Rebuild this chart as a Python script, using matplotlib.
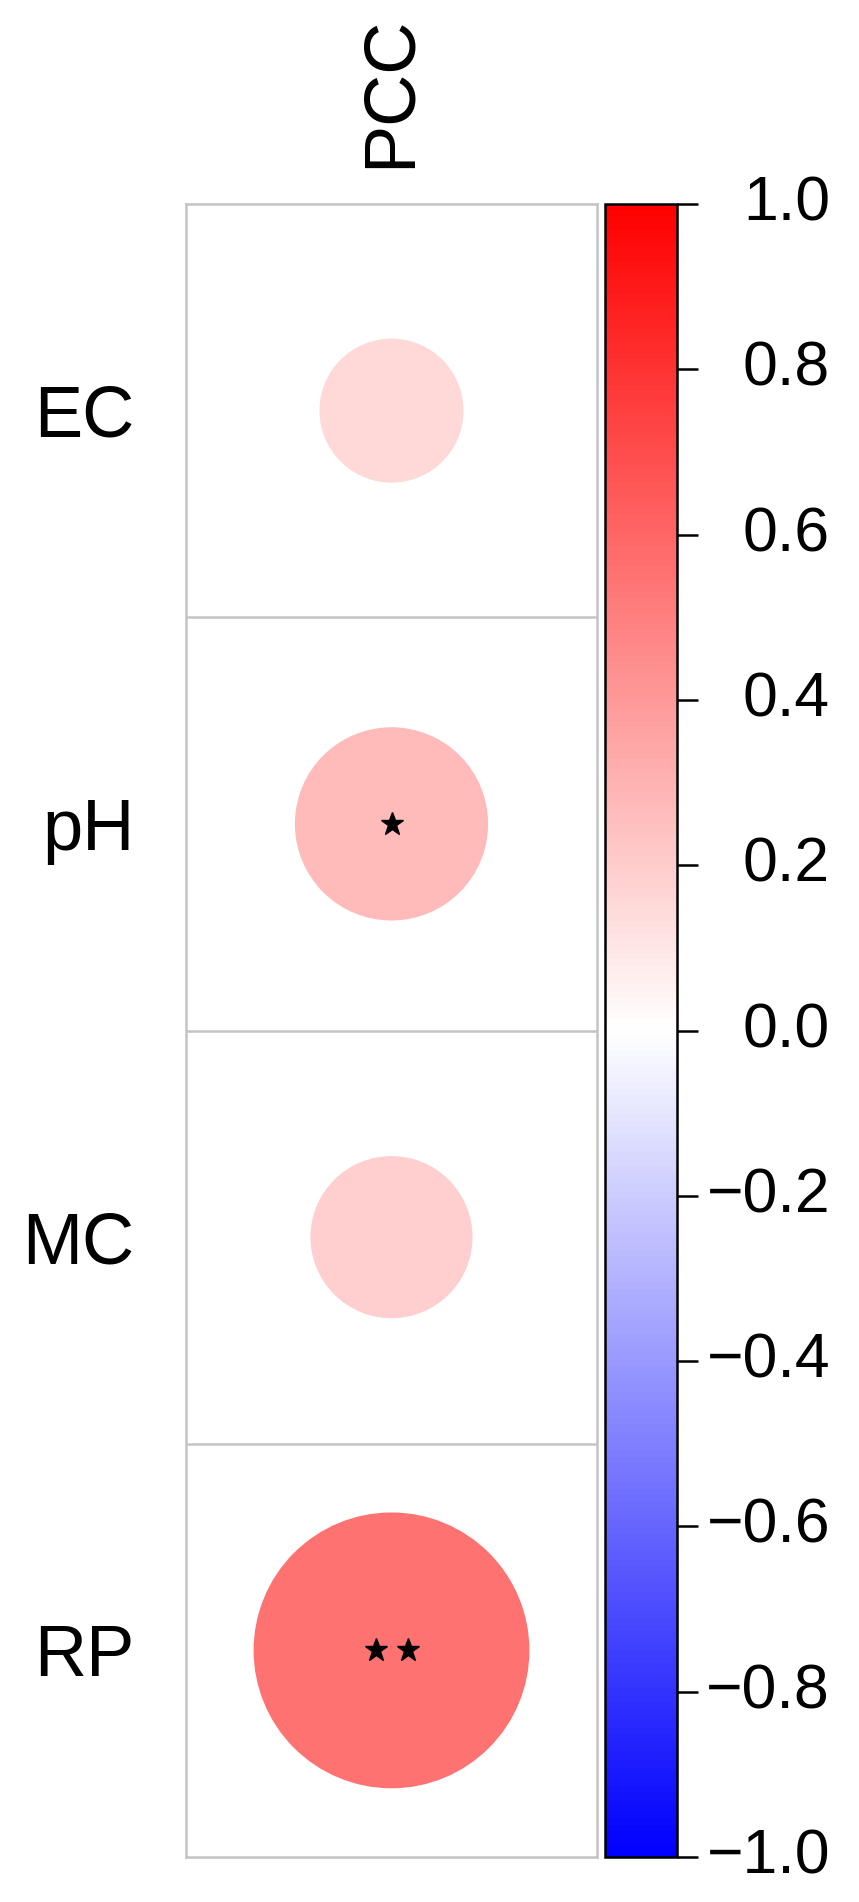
import numpy as np
import matplotlib
matplotlib.use('Agg')
import matplotlib.pyplot as plt
import matplotlib.transforms as mtransforms
from matplotlib.colors import LinearSegmentedColormap, Normalize
from matplotlib.patches import Ellipse
from matplotlib.colorbar import ColorbarBase

plt.rcParams['font.family'] = ['Liberation Sans', 'DejaVu Sans']

variables = ['EC', 'pH', 'MC', 'RP']
pcc = [0.15, 0.27, 0.19, 0.55]
stars = ['', '*', '', '**']
column = 'PCC'
cbar_ticks = [1.0, 0.8, 0.6, 0.4, 0.2, 0.0, -0.2, -0.4, -0.6, -0.8, -1.0]

W, H, DPI = 859, 1902, 100
fig = plt.figure(figsize=(W / DPI, H / DPI), dpi=DPI)

# main grid, pixel box 186..597 x 204..1857
gx0, gx1, gy0, gy1 = 186, 597, 204, 1857
ax = fig.add_axes([gx0 / W, 1 - gy1 / H, (gx1 - gx0) / W, (gy1 - gy0) / H])
n = len(variables)
ax.set_xlim(0, 1)
ax.set_ylim(n, 0)

cmap = LinearSegmentedColormap.from_list('bwr_pure', ['#0000FF', '#FFFFFF', '#FF0000'])
norm = Normalize(-1, 1)

# pixel-per-unit to keep circles round
px_x = gx1 - gx0
px_y = (gy1 - gy0) / n
for i, (v, s) in enumerate(zip(pcc, stars)):
    rad = 0.45 * np.sqrt(abs(v))
    ax.add_patch(Ellipse((0.5, i + 0.5), 2 * rad * px_y / px_x, 2 * rad,
                         facecolor=cmap(norm(v)), edgecolor='none', zorder=2))
    k = len(s)
    if k:
        offs = (np.arange(k) - (k - 1) / 2) * 32 / px_x
        ax.plot(0.5 + offs, [i + 0.5] * k, linestyle='none', marker='*',
                ms=17, color='black', zorder=3)

for y in range(1, n):
    ax.axhline(y, color='#c4c4c4', lw=1.8, zorder=1)
for sp in ax.spines.values():
    sp.set_color('#c4c4c4')
    sp.set_linewidth(1.8)

ax.set_yticks(np.arange(n) + 0.5)
ax.set_yticklabels(variables, fontsize=52)
ax.tick_params(axis='y', length=0, pad=37)
ax.set_xticks([0.5])
ax.set_xticklabels([column], rotation=90, fontsize=52)
ax.xaxis.tick_top()
ax.tick_params(axis='x', length=0, pad=26)

# colorbar
cx0, cx1 = 605, 677
cax = fig.add_axes([cx0 / W, 1 - gy1 / H, (cx1 - cx0) / W, (gy1 - gy0) / H])
cb = ColorbarBase(cax, cmap=cmap, norm=norm, orientation='vertical', ticks=cbar_ticks)
cb.outline.set_linewidth(1.8)
cb.outline.set_edgecolor('black')
cax.tick_params(axis='y', length=15, width=1.8, labelright=False)

# right-aligned tick labels
trans = mtransforms.blended_transform_factory(cax.transAxes, cax.transData)
x_lab = (830 - cx0) / (cx1 - cx0)
for t in cbar_ticks:
    cax.text(x_lab, t, ('%.1f' % t).replace('-', '\u2212'), transform=trans,
             ha='right', va='center', fontsize=45, clip_on=False)

fig.savefig('out.png', dpi=DPI)
